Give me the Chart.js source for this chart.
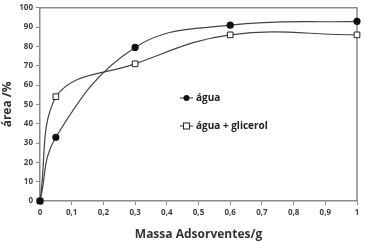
<!DOCTYPE html>
<html>
<head>
<meta charset="utf-8">
<script src="https://cdn.jsdelivr.net/npm/chart.js@4"></script>
<style>
  html, body { margin: 0; padding: 0; background: #fff; }
  #wrap { width: 366px; height: 242px; position: relative; }
</style>
</head>
<body>
<div id="wrap"><canvas id="chart"></canvas></div>
<script>
// data
const massa = [0, 0.05, 0.3, 0.6, 1];
const agua = [0, 33, 79.5, 91, 93];
const aguaGlicerol = [0, 54, 71, 86, 86];
const xTicks = [0, 0.1, 0.2, 0.3, 0.4, 0.5, 0.6, 0.7, 0.8, 0.9, 1];
const seriesNames = ['água', 'água + glicerol'];

const toPoints = (ys) => ys.map((y, i) => ({ x: massa[i], y: y }));

const axisColor = '#8a8a8a';
const textColor = '#404040';

// top/right border of the plot + legend inside the plot
const boxAndLegend = {
  id: 'boxAndLegend',
  beforeDatasetsDraw(chart) {
    const { ctx, chartArea: a } = chart;
    ctx.save();
    ctx.strokeStyle = axisColor;
    ctx.lineWidth = 1.5;
    ctx.beginPath();
    ctx.moveTo(a.left, a.top);
    ctx.lineTo(a.right, a.top);
    ctx.lineTo(a.right, a.bottom);
    ctx.stroke();
    ctx.restore();
  },
  afterDraw(chart) {
    const { ctx } = chart;
    ctx.save();
    const items = [
      { y: 98, fill: '#111', square: false },
      { y: 126, fill: '#fff', square: true }
    ];
    ctx.font = 'bold 10px "Open Sans"';
    ctx.textBaseline = 'middle';
    items.forEach((it, i) => {
      ctx.strokeStyle = '#333';
      ctx.lineWidth = 1;
      ctx.beginPath();
      ctx.moveTo(180, it.y);
      ctx.lineTo(193, it.y);
      ctx.stroke();
      ctx.fillStyle = it.fill;
      ctx.strokeStyle = '#222';
      if (it.square) {
        ctx.fillRect(183.5, it.y - 3, 6, 6);
        ctx.strokeRect(183.5, it.y - 3, 6, 6);
      } else {
        ctx.beginPath();
        ctx.arc(186.5, it.y, 3, 0, Math.PI * 2);
        ctx.fill();
      }
      ctx.fillStyle = '#222';
      ctx.fillText(seriesNames[i], 196, it.y);
    });
    ctx.restore();
  }
};

new Chart(document.getElementById('chart'), {
  type: 'line',
  data: {
    datasets: [
      {
        label: seriesNames[0],
        data: toPoints(agua),
        borderColor: '#444',
        borderWidth: 1.2,
        pointStyle: 'circle',
        pointRadius: 3,
        pointBackgroundColor: '#111',
        pointBorderColor: '#111',
        tension: 0.4,
        clip: false,
        fill: false
      },
      {
        label: seriesNames[1],
        data: toPoints(aguaGlicerol),
        borderColor: '#444',
        borderWidth: 1.2,
        pointStyle: 'rect',
        pointRadius: 4,
        pointBackgroundColor: '#fff',
        pointBorderColor: '#222',
        pointBorderWidth: 1,
        tension: 0.4,
        clip: false,
        fill: false
      }
    ]
  },
  options: {
    responsive: true,
    maintainAspectRatio: false,
    animation: false,
    layout: { padding: { top: 6, right: 9, left: 0, bottom: 0 } },
    plugins: {
      legend: { display: false },
      tooltip: { enabled: false }
    },
    scales: {
      x: {
        type: 'linear',
        min: 0,
        max: 1,
        afterBuildTicks: (axis) => { axis.ticks = xTicks.map(v => ({ value: v })); },
        afterFit: (axis) => { axis.height = 41; },
        ticks: {
          color: textColor,
          font: { family: 'Open Sans', size: 8, weight: 'bold' },
          padding: 3,
          maxRotation: 0,
          callback: (v) => String(Math.round(v * 10) / 10).replace('.', ',')
        },
        grid: { drawOnChartArea: false, drawTicks: true, tickLength: 4, color: axisColor },
        border: { color: axisColor, width: 1.5 },
        title: {
          display: true,
          text: 'Massa Adsorventes/g',
          color: '#333',
          font: { family: 'Open Sans', size: 12, weight: 'bold' },
          padding: { top: 3, bottom: 0 }
        }
      },
      y: {
        min: 0,
        max: 100,
        afterFit: (axis) => { axis.width = 40; },
        ticks: {
          stepSize: 10,
          color: textColor,
          font: { family: 'Open Sans', size: 8, weight: 'bold' },
          padding: 3
        },
        grid: { drawOnChartArea: false, drawTicks: true, tickLength: 4, color: axisColor },
        border: { color: axisColor, width: 1.5 },
        title: {
          display: true,
          text: 'área /%',
          color: '#333',
          font: { family: 'Open Sans', size: 12, weight: 'bold' },
          padding: { top: 0, bottom: 2 }
        }
      }
    }
  },
  plugins: [boxAndLegend]
});
</script>
</body>
</html>
